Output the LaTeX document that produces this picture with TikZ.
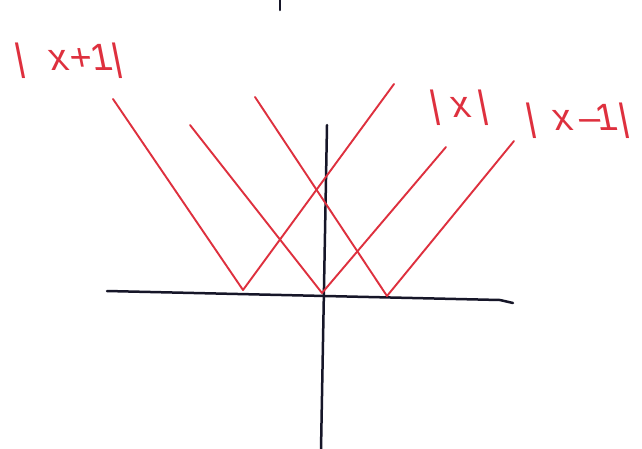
\documentclass[tikz,border=0pt]{standalone}
\usepackage{fontspec}
\setmainfont{Liberation Sans}
\definecolor{pen}{RGB}{222,48,62}
\definecolor{ink}{RGB}{22,22,40}
\begin{document}
\begin{tikzpicture}[x=1pt,y=-1pt,
  graph/.style={pen,line width=1.9pt,line cap=round,line join=round},
  axis/.style={ink,line width=2.5pt,line cap=round,line join=round},
  lab/.style={pen,inner sep=0pt,anchor=base west,font=\fontsize{38}{38}\selectfont,xslant=-0.2,transform shape}]
\fill[white] (0,0) rectangle (642,448);
\useasboundingbox (0,0) rectangle (642,448);
% axes
\coordinate (O) at (322,293);
\coordinate (XL) at (107,291);
\coordinate (XR0) at (500,300);
\coordinate (XR) at (513,303);
\coordinate (YT) at (327,125);
\coordinate (YB) at (321,450);
\coordinate (T1) at (280,-2);
\coordinate (T2) at (280,10);
\draw[axis] (XL) -- (XR0) -- (XR);
\draw[axis] (YT) -- (YB);
\draw[axis] (T1) -- (T2);
% |x+1|
\coordinate (A1) at (113,99); \coordinate (A) at (243,290); \coordinate (A2) at (394,84);
\draw[graph] (A1) -- (A) -- (A2);
% |x|
\coordinate (B1) at (190,125); \coordinate (B) at (322,293); \coordinate (B2) at (446,147);
\draw[graph] (B1) -- (B) -- (B2);
% |x-1|
\coordinate (C1) at (255,97); \coordinate (C) at (387,296); \coordinate (C2) at (514,141);
\draw[graph] (C1) -- (C) -- (C2);
% labels
\node[lab] (LA) at (17,70) {|\kern24.5pt x\kern2.4pt+\kern-1.6pt1\kern-0.5pt|};
\node[lab] (LB) at (432,117) {|\kern11.5pt x\kern7.5pt|};
\node[lab] (LC) at (528,130) {|\kern17.5pt x\kern7pt–\kern-4pt1\kern1.5pt|};
\end{tikzpicture}
\end{document}
